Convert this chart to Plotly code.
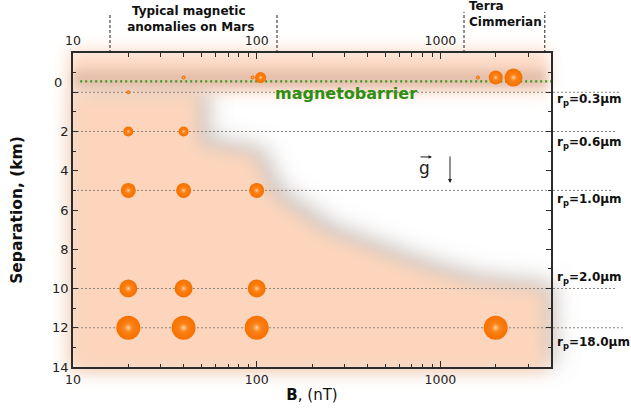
import math, base64
import plotly.graph_objects as go

# ---------------- data ----------------
# particles trapped at the magnetobarrier
barrier_B = [40, 95, 105, 1600, 2000, 2500]
barrier_km = -0.75
barrier_size = [4, 4, 11, 4, 14, 18]

# separated particle layers: radius label, separation (km), B values (nT), marker size
layer_rp = ["0.3", "0.6", "1.0", "2.0", "18.0"]
layer_km = [0, 2, 5, 10, 12]
layer_B = [[20], [20, 40], [20, 40, 100], [20, 40, 100], [20, 40, 100, 2000]]
layer_size = [4, 10, 15, 18, 24]
layer_label_km = [0.39, 2.59, 5.49, 9.46, 12.78]

# shaded region boundary (B in nT, separation in km)
region_B = [9.4, 49, 49, 98, 121, 235, 728, 1449, 3705, 3800, 9.4]
region_km = [0.0, 0.0, 2.69, 3.2, 5.24, 7.12, 8.85, 9.67, 10.08, 14.26, 14.26]
band_B = [9.4, 3900]
band_km = [-2.15, 0.0]
strip_B = [10, 3800]
strip_km = [-1.13, -0.22]

x_ticks = [10, 100, 1000]
x_minor = [20, 30, 40, 50, 60, 70, 80, 90, 200, 300, 400, 500, 600, 700, 800, 900, 2000, 3000]
y_ticks = [0, 2, 4, 6, 8, 10, 12, 14]
y_ticktext = ["", "2", "4", "6", "8", "10", "12", "14"]

# ---------------- geometry ----------------
W, H = 631, 414
ML, MT = 73, 53
PW, PH = 478, 314
MR, MB = W - ML - PW, H - MT - PH
XR = [1, math.log10(4000)]
YR = [14, -2]

def px_x(b):
    return ML + (math.log10(b) - XR[0]) * PW / (XR[1] - XR[0])

def px_y(km):
    return MT + (km - YR[1]) * PH / (YR[0] - YR[1])

# blurred background drawn as svg image
ix, iy, iw, ih = 15, 0, 610, 414
pts = " ".join(f"{px_x(b):.1f},{px_y(k):.1f}" for b, k in zip(region_B, region_km))
bx0, bx1 = px_x(band_B[0]), px_x(band_B[1])
by0, by1 = px_y(band_km[0]), px_y(band_km[1])
sx0, sx1 = px_x(strip_B[0]), px_x(strip_B[1])
sy0, sy1 = px_y(strip_km[0]), px_y(strip_km[1])
flt = f'filterUnits="userSpaceOnUse" x="{ix}" y="{iy}" width="{iw}" height="{ih}"'
svg = f'''<svg xmlns="http://www.w3.org/2000/svg" width="{iw}" height="{ih}" viewBox="{ix} {iy} {iw} {ih}">
<defs>
<filter id="b1" {flt}><feGaussianBlur stdDeviation="8"/></filter>
<filter id="b2" {flt}><feGaussianBlur stdDeviation="11"/></filter>
<filter id="b3" {flt}><feGaussianBlur stdDeviation="5"/></filter>
</defs>
<polygon points="{pts}" fill="rgb(150,138,132)" fill-opacity="0.5" filter="url(#b2)" transform="translate(10,-8)"/>
<polygon points="{pts}" fill="#fcd5bc" filter="url(#b1)"/>
<rect x="{bx0:.1f}" y="{by0:.1f}" width="{bx1-bx0:.1f}" height="{by1-by0:.1f}" fill="#fcd9c4" filter="url(#b1)"/>
<rect x="{sx0:.1f}" y="{sy0:.1f}" width="{sx1-sx0:.1f}" height="{sy1-sy0:.1f}" fill="rgb(200,160,140)" fill-opacity="0.45" filter="url(#b3)"/>
</svg>'''
uri = "data:image/svg+xml;base64," + base64.b64encode(svg.encode()).decode()

FONT = "DejaVu Sans"

fig = go.Figure()

all_B = list(barrier_B)
all_km = [barrier_km] * len(barrier_B)
all_size = list(barrier_size)
for bs, km, s in zip(layer_B, layer_km, layer_size):
    all_B += bs
    all_km += [km] * len(bs)
    all_size += [s] * len(bs)

fig.add_trace(go.Scatter(
    x=all_B, y=all_km, mode="markers", hoverinfo="skip", showlegend=False,
    marker=dict(size=all_size, color="#f57000", opacity=1, line=dict(width=0),
                gradient=dict(type="radial", color="#ff8a1e"))))
fig.add_trace(go.Scatter(
    x=all_B, y=all_km, mode="markers", hoverinfo="skip", showlegend=False,
    marker=dict(size=[s * 0.4 for s in all_size], color="rgba(255,170,110,0.0)", opacity=1,
                line=dict(width=0),
                gradient=dict(type="radial", color="rgba(255,228,205,0.85)"))))
# invisible trace to activate the top axis
fig.add_trace(go.Scatter(x=[10], y=[0], xaxis="x2", mode="markers",
                         marker=dict(opacity=0), hoverinfo="skip", showlegend=False))

shapes = []
ext = {0: 1.145, 2: 1.135, 5: 1.13, 10: 1.135, 12: 1.15}
for km in layer_km:
    shapes.append(dict(type="line", xref="paper", yref="y", x0=0, x1=ext.get(km, 1.14),
                       y0=km, y1=km, layer="below",
                       line=dict(color="#8c8580", width=1, dash="2px,2px")))
shapes.append(dict(type="line", xref="paper", yref="y", x0=0.015, x1=1.0,
                   y0=-0.55, y1=-0.55, layer="below",
                   line=dict(color="#3c9a1e", width=2.2, dash="2px,3px")))
# region markers above the plot
for xp, ytop in [(0.0774, 1.124), (0.4268, 1.124), (0.818, 1.131), (0.987, 1.131)]:
    shapes.append(dict(type="line", xref="paper", yref="paper", x0=xp, x1=xp,
                       y0=1.0, y1=ytop, line=dict(color="#222", width=1, dash="3px,2px")))

ann = []
for rp, ky in zip(layer_rp, layer_label_km):
    ann.append(dict(text=f"<b>r<sub>p</sub>=%s\u00b5m</b>" % rp, xref="paper", yref="y",
                    x=1.009, y=ky, xanchor="left", yanchor="middle", showarrow=False,
                    font=dict(family=FONT, size=12, color="#111")))
ann.append(dict(text="<b>magnetobarrier</b>", xref="paper", yref="y", x=0.571, y=0.05,
                xanchor="center", yanchor="middle",
                showarrow=False, font=dict(family=FONT, size=16, color="#2f8f12")))
ann.append(dict(text="<b>Typical magnetic<br> anomalies on Mars</b>", xref="paper", yref="paper",
                x=0.2406, y=1.107, xanchor="center", yanchor="middle",
                showarrow=False, font=dict(family=FONT, size=12, color="#111")))
ann.append(dict(text="<b>Terra<br>Cimmerian</b>", xref="paper", yref="paper", align="left",
                x=0.904, y=1.124, xanchor="center", yanchor="middle",
                showarrow=False, font=dict(family=FONT, size=12, color="#111")))
ann.append(dict(text="0", xref="paper", yref="y", x=-0.019, y=-0.5, xanchor="right",
                yanchor="middle",
                showarrow=False, font=dict(family=FONT, size=13, color="#222")))
ann.append(dict(text="g", xref="paper", yref="paper", x=0.7364, y=0.634,
                xanchor="center", yanchor="middle", showarrow=False,
                font=dict(family=FONT, size=17, color="#222")))
ann.append(dict(text="", xref="paper", yref="paper", x=0.751, y=0.669, ax=-13, ay=0,
                showarrow=True, arrowhead=2, arrowsize=0.7, arrowwidth=1, arrowcolor="#222"))
ann.append(dict(text="", xref="paper", yref="paper", x=0.7887, y=0.586, ax=0, ay=-28,
                showarrow=True, arrowhead=2, arrowsize=0.8, arrowwidth=1, arrowcolor="#222"))

axcol = "#2b2b2b"
xcommon = dict(type="log", range=XR, showgrid=False, zeroline=False, automargin=False,
               ticks="inside", ticklen=6, tickwidth=1, tickcolor=axcol,
               tickvals=x_ticks, ticktext=[str(v) for v in x_ticks],
               tickfont=dict(family=FONT, size=12.5, color="#222"),
               minor=dict(tickvals=x_minor, ticks="inside", ticklen=3.5, tickcolor=axcol, tickwidth=1))

fig.update_layout(
    width=W, height=H, autosize=False,
    margin=dict(l=ML, r=MR, t=MT, b=MB, pad=0),
    paper_bgcolor="white", plot_bgcolor="rgba(0,0,0,0)",
    font=dict(family=FONT),
    xaxis=dict(**xcommon, showline=True, linecolor=axcol, linewidth=1.5, mirror=True,
               title=dict(text="<b>B</b>, (nT)", standoff=4,
                          font=dict(family=FONT, size=15, color="#111"))),
    xaxis2=dict(**xcommon, overlaying="x", side="top", anchor="y", showline=False,
                ticklabelstandoff=5),
    yaxis=dict(range=YR, showgrid=False, zeroline=False, showline=True, linecolor=axcol,
               automargin=False,
               linewidth=1.5, mirror="ticks", ticks="inside", ticklen=5, tickwidth=1,
               tickcolor=axcol, tickvals=y_ticks, ticktext=y_ticktext,
               tickfont=dict(family=FONT, size=13, color="#222"),
               minor=dict(dtick=1, ticks="inside", ticklen=3.5, tickcolor=axcol, tickwidth=1),
               title=dict(text="<b>Separation, (km)</b>", standoff=26,
                          font=dict(family=FONT, size=15.5, color="#111"))),
    shapes=shapes, annotations=ann,
    images=[dict(source=uri, xref="paper", yref="paper",
                 x=(ix - ML) / PW, y=(MT + PH - iy) / PH,
                 sizex=iw / PW, sizey=ih / PH, xanchor="left", yanchor="top",
                 sizing="stretch", layer="below")],
)

# remove the default 8px page margin so the 631x414 figure fills the window
fig.write_html("out.html", config={"displayModeBar": False},
               post_script="document.body.style.margin='0';")
